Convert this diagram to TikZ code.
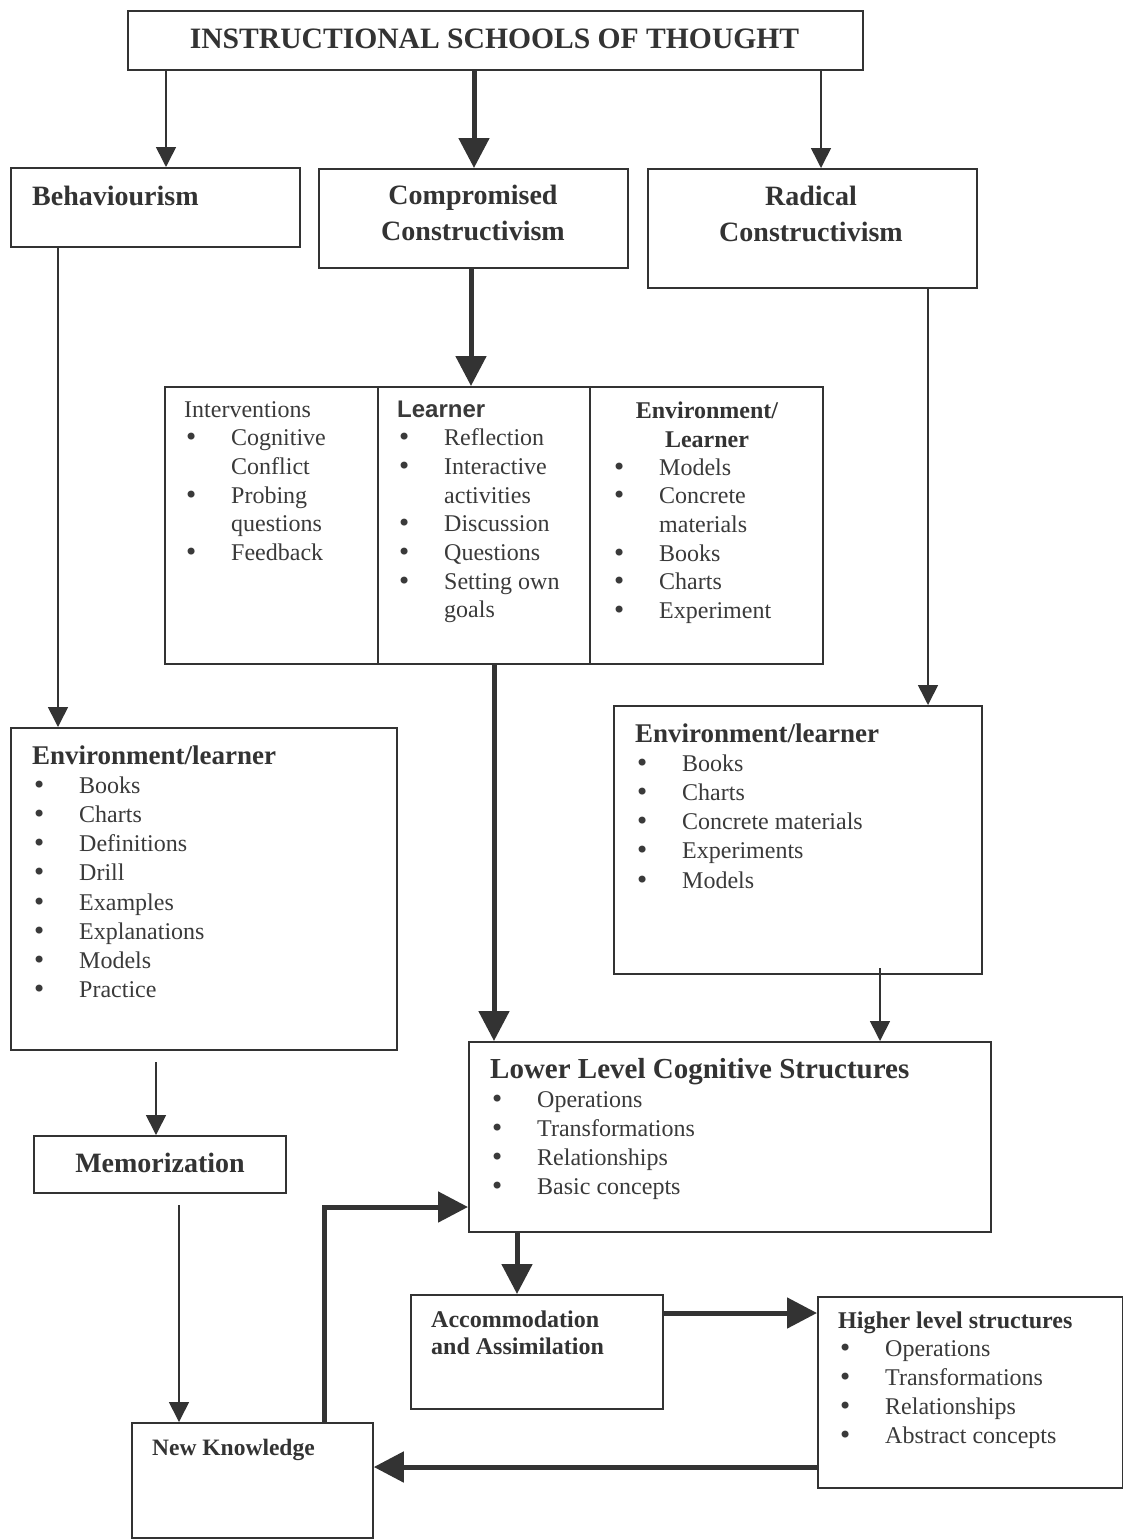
\documentclass[tikz,border=0pt]{standalone}
\usepackage{fontspec}
\setmainfont{Liberation Serif}
\newfontfamily\arialfont{Liberation Sans}
\newfontfamily\dejafont{DejaVu Sans}
\usetikzlibrary{arrows.meta,calc}
\definecolor{ink}{HTML}{333333}
\definecolor{txt}{HTML}{3A3A3A}
\newlength{\bulind}\setlength{\bulind}{47pt}
\newcommand{\bigbullet}{{\dejafont •}}
\newcommand{\bul}[1]{\makebox[\bulind][l]{\bigbullet}#1\par}
\newcommand{\contline}[1]{\hspace*{\bulind}#1\par}
\newcommand{\txtsize}{\fontsize{24}{29.2}\selectfont}
\newcommand{\midsize}{\fontsize{24}{28.7}\selectfont}
\begin{document}
\begin{tikzpicture}[x=1pt,y=-1pt,
  box/.style={draw=ink,line width=1.8pt,inner sep=0pt,anchor=north west},
  lst/.style={anchor=base west,inner sep=0pt,text=txt},
  hd/.style={anchor=base,inner sep=0pt,text=ink},
  thinarr/.style={draw=ink,line width=1.6pt,-{Triangle[length=20pt,width=20pt]}},
  thickarr/.style={draw=ink,line width=5pt,-{Triangle[length=30pt,width=30pt]}}]
\useasboundingbox (0,0) rectangle (1123,1539);
\fill[white] (0,0) rectangle (1123,1539);

% ---------- boxes ----------
\node[box,minimum width=735pt,minimum height=59pt] (title) at (127,10) {};
\node[box,minimum width=289pt,minimum height=79pt] (beh) at (10,167) {};
\node[box,minimum width=309pt,minimum height=99pt] (comp) at (318,168) {};
\node[box,minimum width=329pt,minimum height=119pt] (rad) at (647,168) {};
\node[box,minimum width=213pt,minimum height=277pt] (mid1) at (164,386) {};
\node[box,minimum width=212pt,minimum height=277pt] (mid2) at (377,386) {};
\node[box,minimum width=233pt,minimum height=277pt] (mid3) at (589,386) {};
\node[box,minimum width=386pt,minimum height=322pt] (envL) at (10,727) {};
\node[box,minimum width=368pt,minimum height=268pt] (envR) at (613,705) {};
\node[box,minimum width=252pt,minimum height=57pt] (mem) at (33,1135) {};
\node[box,minimum width=522pt,minimum height=190pt] (low) at (468,1041) {};
\node[box,minimum width=252pt,minimum height=114pt] (acc) at (410,1294) {};
\node[box,minimum width=305pt,minimum height=191pt] (high) at (817,1296) {};
\node[box,minimum width=241pt,minimum height=115pt] (nk) at (131,1422) {};

% ---------- texts ----------
\node[hd,font=\bfseries\fontsize{29.6}{32}\selectfont] (titleT) at (494.5,48) {INSTRUCTIONAL SCHOOLS OF THOUGHT};
\node[hd,anchor=base west,font=\bfseries\fontsize{28}{32}\selectfont] (behT) at (32,205) {Behaviourism};
\node[hd] (compT) at (473,204) {\parbox[t]{300pt}{\centering\bfseries\fontsize{28}{36}\selectfont Compromised\par Constructivism}};
\node[hd] (radT) at (811,205) {\parbox[t]{320pt}{\centering\bfseries\fontsize{28}{36}\selectfont Radical\par Constructivism}};

\node[lst] (mid1T) at (184,417) {\parbox[t]{190pt}{\midsize
  Interventions\par
  \bul{Cognitive}\contline{Conflict}\bul{Probing}\contline{questions}\bul{Feedback}}};
\node[lst] (mid2T) at (397,417) {\parbox[t]{190pt}{\midsize
  {\arialfont\bfseries Learner\par}
  \bul{Reflection}\bul{Interactive}\contline{activities}\bul{Discussion}\bul{Questions}\bul{Setting own}\contline{goals}}};
\node[hd] (mid3H) at (707,418) {\parbox[t]{200pt}{\centering\bfseries\fontsize{24}{29}\selectfont Environment/\par Learner}};
\node[lst] (mid3T) at (612,475) {\parbox[t]{200pt}{\midsize
  \bul{Models}\bul{Concrete}\contline{materials}\bul{Books}\bul{Charts}\bul{Experiment}}};

\node[lst] (envLT) at (32,764) {\parbox[t]{340pt}{\txtsize
  \leavevmode{\bfseries\fontsize{27}{29.2}\selectfont\textcolor{ink}{Environment/learner}}\par
  \bul{Books}\bul{Charts}\bul{Definitions}\bul{Drill}\bul{Examples}\bul{Explanations}\bul{Models}\bul{Practice}}};
\node[lst] (envRT) at (635,742) {\parbox[t]{330pt}{\txtsize
  \leavevmode{\bfseries\fontsize{27}{29.2}\selectfont\textcolor{ink}{Environment/learner}}\par
  \bul{Books}\bul{Charts}\bul{Concrete materials}\bul{Experiments}\bul{Models}}};
\node[hd,font=\bfseries\fontsize{28}{32}\selectfont] (memT) at (160,1172) {Memorization};
\node[lst] (lowT) at (490,1078) {\parbox[t]{480pt}{\txtsize
  \leavevmode{\bfseries\fontsize{29}{29.2}\selectfont\textcolor{ink}{Lower Level Cognitive Structures}}\par
  \bul{Operations}\bul{Transformations}\bul{Relationships}\bul{Basic concepts}}};
\node[lst,text=ink] (accT) at (431,1327) {\parbox[t]{220pt}{\bfseries\fontsize{24}{27}\selectfont Accommodation\par and Assimilation}};
\node[lst] (highT) at (838,1328) {\parbox[t]{280pt}{\fontsize{24}{28.75}\selectfont
  \leavevmode{\bfseries\textcolor{ink}{Higher level structures}}\par
  \bul{Operations}\bul{Transformations}\bul{Relationships}\bul{Abstract concepts}}};
\node[lst,text=ink,font=\bfseries\fontsize{23.5}{28}\selectfont] (nkT) at (152,1455) {New Knowledge};

% ---------- helper coordinates ----------
\coordinate (xA) at (166,0);
\coordinate (xB) at (474,0);
\coordinate (xC) at (821,0);
\coordinate (xD) at (471,0);
\coordinate (xE) at (58,0);
\coordinate (xF) at (928,0);
\coordinate (xG) at (494,0);
\coordinate (xI) at (324,0);
\coordinate (xJ) at (517,0);
\coordinate (yK) at (0,1207);
\coordinate (yL) at (0,1313);
\coordinate (yM) at (0,1467);
\coordinate (memIn) at (156,1062);
\coordinate (nkIn) at (179,1205);
\coordinate (envRout) at (880,968);

% ---------- connectors ----------
\draw[thinarr] (title.south -| xA) -- (beh.north -| xA);
\draw[thickarr] (title.south -| xB) -- (comp.north -| xB);
\draw[thinarr] (title.south -| xC) -- (rad.north -| xC);
\draw[thickarr] (comp.south -| xD) -- (mid2.north -| xD);
\draw[thinarr] (beh.south -| xE) -- (envL.north -| xE);
\draw[thinarr] (rad.south -| xF) -- (envR.north -| xF);
\draw[thickarr] (mid2.south -| xG) -- (low.north -| xG);
\draw[thinarr] (memIn) -- (mem.north -| memIn);
\draw[thinarr] (nkIn) -- (nk.north -| nkIn);
\draw[thinarr] (envRout) -- (low.north -| envRout);
\draw[thickarr] (nk.north -| xI) |- (low.west |- yK);
\draw[thickarr] (low.south -| xJ) -- (acc.north -| xJ);
\draw[thickarr] (acc.east |- yL) -- (high.west |- yL);
\draw[thickarr] (high.west |- yM) -- (nk.east |- yM);
\end{tikzpicture}
\end{document}
